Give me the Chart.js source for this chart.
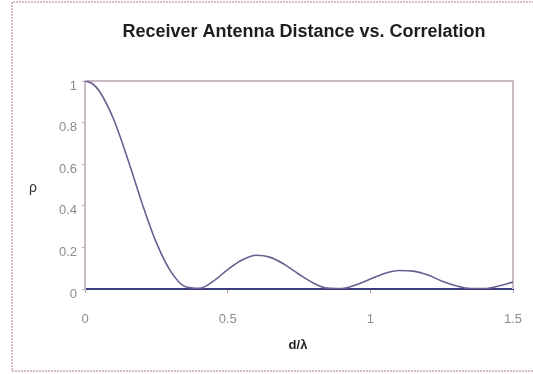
<!DOCTYPE html>
<html>
<head>
<meta charset="utf-8">
<script src="https://cdn.jsdelivr.net/npm/chart.js@4/dist/chart.umd.min.js"></script>
<style>
  html, body { margin: 0; padding: 0; background: #ffffff; }
  #wrap { width: 533px; height: 374px; position: relative; }
</style>
</head>
<body>
<div id="wrap"><canvas id="c" width="533" height="374"></canvas></div>
<script>
// Antenna spacing in wavelengths (d/λ)
const spacing = [0, 0.025, 0.05, 0.10, 0.15, 0.20, 0.25, 0.30, 0.35, 0.40, 0.45,
                 0.50, 0.55, 0.60, 0.65, 0.70, 0.75, 0.80, 0.85, 0.90, 0.95,
                 1.00, 1.05, 1.10, 1.15, 1.20, 1.25, 1.30, 1.35, 1.40, 1.45, 1.50];
// Correlation coefficient ρ at each spacing
const correlation = [1.000, 0.988, 0.952, 0.817, 0.624, 0.412, 0.223, 0.086, 0.012, 0.003, 0.038,
                     0.093, 0.139, 0.162, 0.152, 0.117, 0.071, 0.029, 0.004, 0.002, 0.020,
                     0.048, 0.075, 0.089, 0.086, 0.068, 0.039, 0.016, 0.002, 0.002, 0.014,
                     0.033];
const xTickValues = [0, 0.5, 1, 1.5];
const yTickValues = [0, 0.2, 0.4, 0.6, 0.8, 1];

const chartTitle = 'Receiver Antenna Distance vs. Correlation';
const xAxisTitle = 'd/\u03bb';
const yAxisTitle = '\u03c1';

const FONT = '"Liberation Sans", Arial, sans-serif';

const decorations = {
  id: 'decorations',
  beforeDraw(chart) {
    const ctx = chart.ctx;
    ctx.save();
    ctx.fillStyle = '#ffffff';
    ctx.fillRect(0, 0, chart.width, chart.height);
    // outer dotted frame
    ctx.strokeStyle = '#d4bccc';
    ctx.lineWidth = 2;
    ctx.setLineDash([2, 1]);
    ctx.beginPath();
    ctx.moveTo(540, 2);
    ctx.lineTo(12, 2);
    ctx.lineTo(12, 371);
    ctx.lineTo(540, 371);
    ctx.stroke();
    ctx.restore();
  },
  beforeDatasetsDraw(chart) {
    const { ctx, chartArea: a } = chart;
    ctx.save();
    ctx.strokeStyle = '#c8bcc4';
    ctx.lineWidth = 2;
    ctx.beginPath();
    ctx.moveTo(a.left, a.top);
    ctx.lineTo(a.right, a.top);
    ctx.lineTo(a.right, a.bottom);
    ctx.stroke();
    ctx.restore();
  },
  afterDraw(chart) {
    const ctx = chart.ctx;
    ctx.save();
    ctx.fillStyle = '#1e1e1e';
    ctx.textAlign = 'center';
    ctx.textBaseline = 'middle';
    ctx.font = 'bold 18px ' + FONT;
    ctx.fillText(chartTitle, 304, 32);
    ctx.font = 'bold 13px ' + FONT;
    ctx.fillText(xAxisTitle, 298, 345);
    ctx.font = '14px ' + FONT;
    ctx.fillStyle = '#333333';
    ctx.fillText(yAxisTitle, 33, 188);
    ctx.restore();
  }
};

new Chart(document.getElementById('c'), {
  type: 'line',
  data: {
    datasets: [{
      data: spacing.map((d, i) => ({ x: d, y: correlation[i] })),
      borderColor: '#6a5f92',
      borderWidth: 1.6,
      pointRadius: 0,
      fill: false,
      tension: 0.4,
      cubicInterpolationMode: 'monotone'
    }]
  },
  plugins: [decorations],
  options: {
    responsive: false,
    animation: false,
    layout: { padding: { left: 0, top: 81, right: 20, bottom: 0 } },
    plugins: { legend: { display: false }, tooltip: { enabled: false }, title: { display: false } },
    scales: {
      x: {
        type: 'linear',
        min: 0, max: 1.5,
        afterBuildTicks(scale) { scale.ticks = xTickValues.map(v => ({ value: v })); },
        afterFit(scale) { scale.height = 85; scale.paddingLeft = 0; scale.paddingRight = 0; },
        grid: { drawOnChartArea: false, tickLength: 4, color: '#b0a4b0' },
        border: { color: '#3e3c80', width: 2 },
        ticks: {
          padding: 19,
          color: '#8c8c8c',
          font: { family: FONT, size: 13 },
          maxRotation: 0,
          callback: v => String(v)
        }
      },
      y: {
        min: 0, max: 1,
        afterBuildTicks(scale) { scale.ticks = yTickValues.map(v => ({ value: v })); },
        afterFit(scale) { scale.width = 85; scale.paddingTop = 0; scale.paddingBottom = 0; },
        grid: { drawOnChartArea: false, tickLength: 3, color: '#b0a4b0' },
        border: { color: '#c8bcc4', width: 2 },
        ticks: {
          padding: 5,
          labelOffset: 5,
          color: '#8c8c8c',
          font: { family: FONT, size: 13 },
          callback: v => String(v)
        }
      }
    }
  }
});
</script>
</body>
</html>
